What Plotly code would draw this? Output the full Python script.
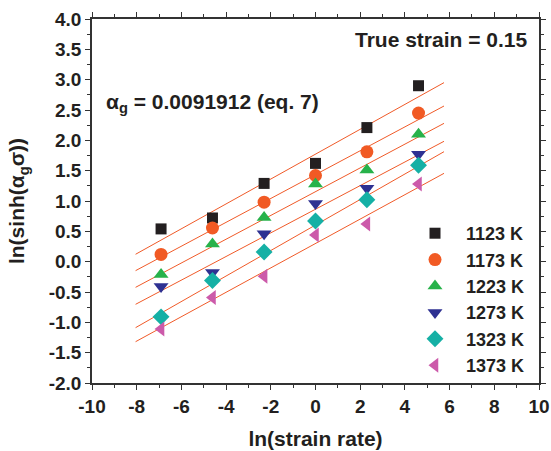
import plotly.graph_objects as go

# ---- data ----
ln_strain_rate = [-6.91, -4.61, -2.30, 0.0, 2.30, 4.61]

temps = ["1123 K", "1173 K", "1223 K", "1273 K", "1323 K", "1373 K"]
y_1123 = [0.54, 0.72, 1.29, 1.62, 2.21, 2.90]
y_1173 = [0.12, 0.555, 0.98, 1.42, 1.81, 2.45]
y_1223 = [-0.21, 0.29, 0.73, 1.28, 1.51, 2.10]
y_1273 = [-0.41, -0.18, 0.46, 0.96, 1.21, 1.77]
y_1323 = [-0.91, -0.31, 0.16, 0.67, 1.02, 1.59]
y_1373 = [-1.11, -0.59, -0.24, 0.44, 0.62, 1.28]

# fitted lines: x range and y values at both ends
fit_x = [-8.05, 5.75]
fit_y_start = [0.122, -0.148, -0.423, -0.703, -1.088, -1.319]
fit_y_end = [2.951, 2.566, 2.280, 1.984, 1.813, 1.456]

x_tick_vals = [-10, -8, -6, -4, -2, 0, 2, 4, 6, 8, 10]
x_tick_text = ["-10", "-8", "-6", "-4", "-2", "0", "2", "4", "6", "8", "10"]
y_tick_vals = [-2.0, -1.5, -1.0, -0.5, 0.0, 0.5, 1.0, 1.5, 2.0, 2.5, 3.0, 3.5, 4.0]
y_tick_text = ["-2.0", "-1.5", "-1.0", "-0.5", "0.0", "0.5", "1.0", "1.5", "2.0", "2.5", "3.0", "3.5", "4.0"]

# ---- styles ----
series = [y_1123, y_1173, y_1223, y_1273, y_1323, y_1373]
colors = ["#231f20", "#f15a24", "#27b24a", "#2e3192", "#15b0a5", "#cc5aaa"]
symbols = ["square", "circle", "triangle-up", "triangle-down", "diamond", "triangle-left"]
sizes = [11, 13, 13, 13, 13, 13]
line_color = "#f05a28"
FONT = "Liberation Sans, Arial, sans-serif"
TXT = "#231f20"

fig = go.Figure()

for ys, ye in zip(fit_y_start, fit_y_end):
    fig.add_trace(go.Scatter(x=fit_x, y=[ys, ye], mode="lines",
                             line=dict(color=line_color, width=1),
                             showlegend=False, hoverinfo="skip"))

for name, ys, c, s, sz in zip(temps, series, colors, symbols, sizes):
    fig.add_trace(go.Scatter(x=ln_strain_rate, y=ys, mode="markers", name=name,
                             marker=dict(color=c, symbol=s, size=sz, line=dict(width=0))))

axis_common = dict(
    showline=True, linecolor="#333333", linewidth=1.5, mirror="allticks",
    ticks="outside", ticklen=5, tickwidth=1.2, tickcolor="#333333",
    showgrid=False, zeroline=False, automargin=False, ticklabeloverflow="allow",
    tickfont=dict(family=FONT, size=19, color=TXT, weight="bold"),
)

fig.update_layout(
    width=551, height=451,
    margin=dict(l=92, r=12, t=19, b=68),
    paper_bgcolor="white", plot_bgcolor="white",
    font=dict(family=FONT, color=TXT),
    xaxis=dict(range=[-10, 10], tickmode="array", tickvals=x_tick_vals, ticktext=x_tick_text,
               minor=dict(tickmode="linear", tick0=0, dtick=1, ticks="outside", ticklen=3,
                          tickcolor="#333333", tickwidth=1),
               title=dict(text="<b>ln(strain rate)</b>", standoff=16,
                          font=dict(family=FONT, size=21, color=TXT)),
               **axis_common),
    yaxis=dict(range=[-2, 4], tickmode="array", tickvals=y_tick_vals, ticktext=y_tick_text,
               minor=dict(tickmode="linear", tick0=0, dtick=0.25, ticks="outside", ticklen=3,
                          tickcolor="#333333", tickwidth=1),
               title=dict(text="<b>ln(sinh(α<sub>g</sub>σ))</b>", standoff=18,
                          font=dict(family=FONT, size=21, color=TXT)),
               **axis_common),
    legend=dict(x=0.698, y=0.4615, xanchor="left", yanchor="top",
                bgcolor="rgba(0,0,0,0)", borderwidth=0, itemwidth=52,
                font=dict(family=FONT, size=18, color=TXT, weight="bold"),
                tracegroupgap=0),
    annotations=[
        dict(text="<b>True strain = 0.15</b>", xref="paper", yref="paper",
             x=0.977, y=0.943, xanchor="right", yanchor="middle", showarrow=False,
             font=dict(family=FONT, size=21, color=TXT)),
        dict(text="<b>α<sub>g</sub> = 0.0091912 (eq. 7)</b>", xref="paper", yref="paper",
             x=0.027, y=0.77, xanchor="left", yanchor="middle", showarrow=False,
             font=dict(family=FONT, size=21, color=TXT)),
    ],
)

fig.write_html(
    "out.html",
    config={"displayModeBar": False},
    post_script="document.body.style.margin='0';document.body.style.overflow='hidden';",
)
